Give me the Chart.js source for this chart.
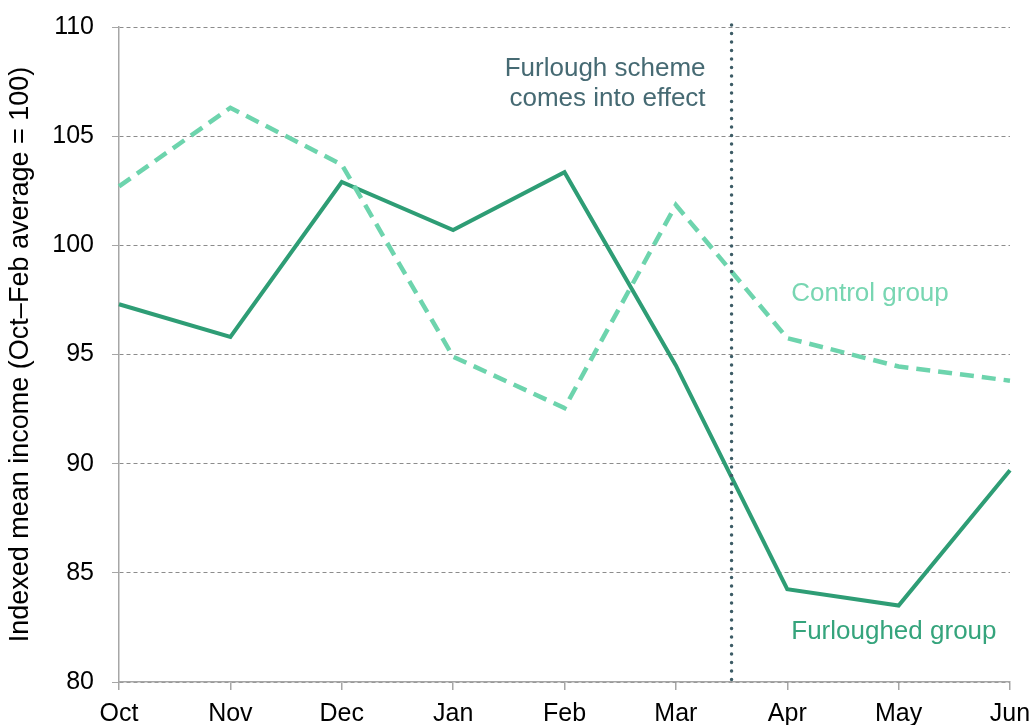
<!DOCTYPE html>
<html lang="en">
<head>
    <meta charset="UTF-8">
    <title>Furlough income chart</title>
    <script src="https://cdn.jsdelivr.net/npm/chart.js"></script>
    <style>
        body { margin: 0; background: #fff; }
        #myChart { display: block; }
    </style>
</head>
<body>
    <canvas id="myChart" width="1034" height="725"></canvas>

    <script>
        // chart data
        var months = ['Oct', 'Nov', 'Dec', 'Jan', 'Feb', 'Mar', 'Apr', 'May', 'Jun'];
        var furloughed = [97.3, 95.8, 102.9, 100.7, 103.35, 94.5, 84.25, 83.5, 89.7];
        var control = [102.7, 106.3, 103.7, 94.9, 92.55, 101.85, 95.75, 94.45, 93.8];
        var yTicks = [80, 85, 90, 95, 100, 105, 110];
        var furloughStart = 5.5;   // between Mar and Apr

        var FONT = '"Liberation Sans", Arial, sans-serif';

        // dotted line + text labels
        const annotations = {
            id: 'annotations',
            afterDatasetsDraw(chart) {
                const ctx = chart.ctx;
                const x = chart.scales.x;
                const y = chart.scales.y;
                const area = chart.chartArea;
                const lx = x.getPixelForValue(furloughStart);

                ctx.save();
                ctx.strokeStyle = '#3d5c66';
                ctx.lineWidth = 3.5;
                ctx.lineCap = 'round';
                ctx.setLineDash([0.1, 8.4]);
                ctx.beginPath();
                ctx.moveTo(lx, area.top - 2);
                ctx.lineTo(lx, area.bottom);
                ctx.stroke();
                ctx.setLineDash([]);

                ctx.font = '26px ' + FONT;
                ctx.textBaseline = 'middle';
                ctx.fillStyle = '#466a73';
                ctx.textAlign = 'right';
                ctx.fillText('Furlough scheme', lx - 26, y.getPixelForValue(108.1));
                ctx.fillText('comes into effect', lx - 26, y.getPixelForValue(106.72));

                ctx.textAlign = 'left';
                ctx.fillStyle = '#78d6b2';
                ctx.fillText('Control group', x.getPixelForValue(6) + 4, y.getPixelForValue(97.8));
                ctx.fillStyle = '#35a47c';
                ctx.fillText('Furloughed group', x.getPixelForValue(6) + 4, y.getPixelForValue(82.3));
                ctx.restore();
            }
        };

        const data = {
            labels: months,
            datasets: [
                {
                    label: 'Control group',
                    data: control,
                    borderColor: '#6dd4ad',
                    borderWidth: 4.5,
                    borderDash: [14, 8],
                    pointRadius: 0,
                    tension: 0,
                    fill: false
                },
                {
                    label: 'Furloughed group',
                    data: furloughed,
                    borderColor: '#2e9d75',
                    borderWidth: 4,
                    pointRadius: 0,
                    tension: 0,
                    fill: false
                }
            ]
        };

        const config = {
            type: 'line',
            data: data,
            options: {
                responsive: false,
                animation: false,
                layout: { padding: { top: 27, right: 24, left: 0, bottom: 0 } },
                plugins: {
                    legend: { display: false },
                    tooltip: { enabled: false }
                },
                scales: {
                    x: {
                        offset: false,
                        grid: {
                            drawOnChartArea: false,
                            drawTicks: true,
                            tickLength: 8,
                            tickColor: '#a6a6a6',
                            lineWidth: 1.5
                        },
                        border: { color: '#a6a6a6', width: 1.5 },
                        ticks: {
                            color: '#000',
                            font: { family: FONT, size: 25 },
                            padding: 9,
                            maxRotation: 0,
                            autoSkip: false
                        },
                        afterFit: function (scale) {
                            scale.height = 43;
                            scale.paddingLeft = 0;
                            scale.paddingRight = 0;
                        }
                    },
                    y: {
                        min: 80,
                        max: 110,
                        afterBuildTicks: function (scale) {
                            scale.ticks = yTicks.map(function (v) { return { value: v }; });
                        },
                        grid: {
                            color: '#8c8c8c',
                            lineWidth: 1,
                            tickLength: 7,
                            tickColor: '#a6a6a6'
                        },
                        border: { color: '#a6a6a6', width: 1.5, dash: [4, 3] },
                        ticks: {
                            color: '#000',
                            font: { family: FONT, size: 25 },
                            padding: 18
                        },
                        title: {
                            display: true,
                            text: 'Indexed mean income (Oct\u2013Feb average = 100)',
                            color: '#000',
                            font: { family: FONT, size: 27 },
                            padding: { top: 4, bottom: 0 }
                        },
                        afterFit: function (scale) {
                            scale.width = 119;
                            scale.paddingTop = 0;
                            scale.paddingBottom = 0;
                        }
                    }
                }
            },
            plugins: [annotations]
        };

        const ctx = document.getElementById('myChart').getContext('2d');
        const myChart = new Chart(ctx, config);
    </script>
</body>
</html>
